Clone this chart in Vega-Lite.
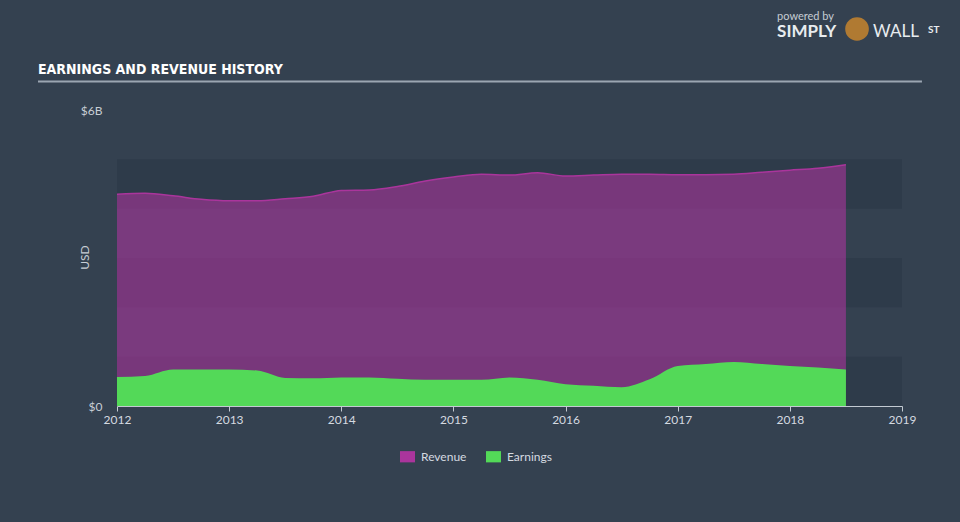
{
  "$schema": "https://vega.github.io/schema/vega-lite/v6.json",
  "width": 785,
  "height": 296,
  "autosize": "none",
  "padding": {"left": 117, "top": 110, "right": 58, "bottom": 116},
  "background": "#344150",
  "config": {
    "view": {"stroke": null},
    "font": "Lato"
  },
  "data": {
    "values": [
      {"t": 2012.0, "Revenue": 4.29, "Earnings": 0.59},
      {"t": 2012.25, "Revenue": 4.31, "Earnings": 0.61},
      {"t": 2012.5, "Revenue": 4.26, "Earnings": 0.74},
      {"t": 2012.75, "Revenue": 4.19, "Earnings": 0.74},
      {"t": 2013.0, "Revenue": 4.16, "Earnings": 0.74},
      {"t": 2013.25, "Revenue": 4.16, "Earnings": 0.72},
      {"t": 2013.5, "Revenue": 4.2, "Earnings": 0.57},
      {"t": 2013.75, "Revenue": 4.25, "Earnings": 0.56},
      {"t": 2014.0, "Revenue": 4.37, "Earnings": 0.58},
      {"t": 2014.25, "Revenue": 4.38, "Earnings": 0.58},
      {"t": 2014.5, "Revenue": 4.45, "Earnings": 0.55},
      {"t": 2014.75, "Revenue": 4.56, "Earnings": 0.53},
      {"t": 2015.0, "Revenue": 4.64, "Earnings": 0.53},
      {"t": 2015.25, "Revenue": 4.7, "Earnings": 0.53},
      {"t": 2015.5, "Revenue": 4.68, "Earnings": 0.58},
      {"t": 2015.75, "Revenue": 4.73, "Earnings": 0.53},
      {"t": 2016.0, "Revenue": 4.66, "Earnings": 0.44},
      {"t": 2016.25, "Revenue": 4.68, "Earnings": 0.41},
      {"t": 2016.5, "Revenue": 4.7, "Earnings": 0.38},
      {"t": 2016.75, "Revenue": 4.7, "Earnings": 0.54},
      {"t": 2017.0, "Revenue": 4.69, "Earnings": 0.81},
      {"t": 2017.25, "Revenue": 4.69, "Earnings": 0.85},
      {"t": 2017.5, "Revenue": 4.7, "Earnings": 0.89},
      {"t": 2017.75, "Revenue": 4.74, "Earnings": 0.85},
      {"t": 2018.0, "Revenue": 4.78, "Earnings": 0.81},
      {"t": 2018.25, "Revenue": 4.82, "Earnings": 0.78},
      {"t": 2018.5, "Revenue": 4.89, "Earnings": 0.74}
    ]
  },
  "layer": [
    {
      "data": {"values": [{"lo": 0, "hi": 1}, {"lo": 2, "hi": 3}, {"lo": 4, "hi": 5}]},
      "mark": {"type": "rect", "color": "#2e3b4a"},
      "encoding": {
        "x": {"datum": 2012, "type": "quantitative", "scale": {"domain": [2012, 2019], "nice": false, "zero": false},
          "axis": {"values": [2012, 2013, 2014, 2015, 2016, 2017, 2018, 2019], "format": "d", "title": null, "grid": false,
            "domainColor": "#c3cad2", "tickColor": "#c3cad2", "tickSize": 5, "labelColor": "#d5dae0", "labelFontSize": 12,
            "labelPadding": 3, "labelFont": "Lato", "labelFlush": false, "labelOverlap": false}},
        "x2": {"datum": 2019},
        "y": {"field": "lo", "type": "quantitative", "scale": {"domain": [0, 6], "nice": false, "zero": true},
          "axis": {"values": [0, 6], "labelExpr": "datum.value == 0 ? '$0' : '$' + datum.value + 'B'", "title": "USD",
            "grid": false, "domain": false, "ticks": false, "labelPadding": 15, "labelColor": "#c8ced5", "labelFontSize": 12,
            "labelFont": "Lato", "titleColor": "#c8ced5", "titleFontSize": 12, "titleFontWeight": "normal", "titleFont": "Lato",
            "titleX": -33, "titleY": 147, "titleAlign": "center", "titleBaseline": "middle", "titleAngle": -90,
            "labelFlush": false}},
        "y2": {"field": "hi"}
      }
    },
    {
      "mark": {"type": "area", "interpolate": "monotone", "fillOpacity": 0.6,
        "line": {"color": "#b4379f", "strokeWidth": 1.5, "interpolate": "monotone"}},
      "encoding": {
        "x": {"field": "t", "type": "quantitative"},
        "y": {"field": "Revenue", "type": "quantitative"},
        "color": {"datum": "Revenue", "type": "nominal",
          "scale": {"domain": ["Revenue", "Earnings"], "range": ["#aa359c", "#53d958"]},
          "legend": {"title": null, "orient": "none", "legendX": 283, "legendY": 339, "direction": "horizontal",
            "symbolType": "M-1,-0.75H1V0.75H-1Z", "symbolSize": 225, "symbolOpacity": 1, "symbolStrokeWidth": 0,
            "labelColor": "#d5dae0", "labelFontSize": 12, "labelFont": "Lato", "labelOffset": 6, "columnPadding": 19, "padding": 0}}
      }
    },
    {
      "mark": {"type": "area", "interpolate": "monotone", "opacity": 1},
      "encoding": {
        "x": {"field": "t", "type": "quantitative"},
        "y": {"field": "Earnings", "type": "quantitative"},
        "color": {"datum": "Earnings", "type": "nominal"}
      }
    },
    {
      "data": {"values": [{}]},
      "mark": {"type": "rule", "color": "#9ba6b2", "strokeWidth": 2},
      "encoding": {
        "x": {"datum": 2011.2955, "type": "quantitative"},
        "x2": {"datum": 2019.178},
        "y": {"datum": 6.578, "type": "quantitative"}
      }
    },
    {
      "data": {"values": [{"label": "EARNINGS AND REVENUE HISTORY"}]},
      "mark": {"type": "text", "align": "left", "baseline": "alphabetic", "fontSize": 14, "fontWeight": "bold", "color": "#ffffff", "font": "DejaVu Sans Condensed, Roboto, sans-serif"},
      "encoding": {
        "x": {"datum": 2011.2955, "type": "quantitative"},
        "y": {"datum": 6.73, "type": "quantitative"},
        "text": {"field": "label"}
      }
    },
    {
      "data": {"values": [{"label": "powered by"}]},
      "mark": {"type": "text", "align": "left", "baseline": "alphabetic", "fontSize": 11, "color": "#c5ccd3", "font": "Lato"},
      "encoding": {
        "x": {"datum": 2017.886, "type": "quantitative"},
        "y": {"datum": 7.83, "type": "quantitative"},
        "text": {"field": "label"}
      }
    },
    {
      "data": {"values": [{"label": "SIMPLY"}]},
      "mark": {"type": "text", "align": "left", "baseline": "alphabetic", "fontSize": 17, "fontWeight": "bold", "color": "#e8ecef", "font": "Lato"},
      "encoding": {
        "x": {"datum": 2017.886, "type": "quantitative"},
        "y": {"datum": 7.48, "type": "quantitative"},
        "text": {"field": "label"}
      }
    },
    {
      "data": {"values": [{}]},
      "mark": {"type": "point", "filled": true, "shape": "circle", "size": 560, "color": "#b07a32", "opacity": 1},
      "encoding": {
        "x": {"datum": 2018.599, "type": "quantitative"},
        "y": {"datum": 7.642, "type": "quantitative"}
      }
    },
    {
      "data": {"values": [{"label": "WALL"}]},
      "mark": {"type": "text", "align": "left", "baseline": "alphabetic", "fontSize": 17, "color": "#e8ecef", "font": "Lato"},
      "encoding": {
        "x": {"datum": 2018.742, "type": "quantitative"},
        "y": {"datum": 7.48, "type": "quantitative"},
        "text": {"field": "label"}
      }
    },
    {
      "data": {"values": [{"label": "ST"}]},
      "mark": {"type": "text", "align": "left", "baseline": "alphabetic", "fontSize": 10, "fontWeight": "bold", "color": "#e8ecef", "font": "Lato"},
      "encoding": {
        "x": {"datum": 2019.232, "type": "quantitative"},
        "y": {"datum": 7.56, "type": "quantitative"},
        "text": {"field": "label"}
      }
    }
  ]
}
